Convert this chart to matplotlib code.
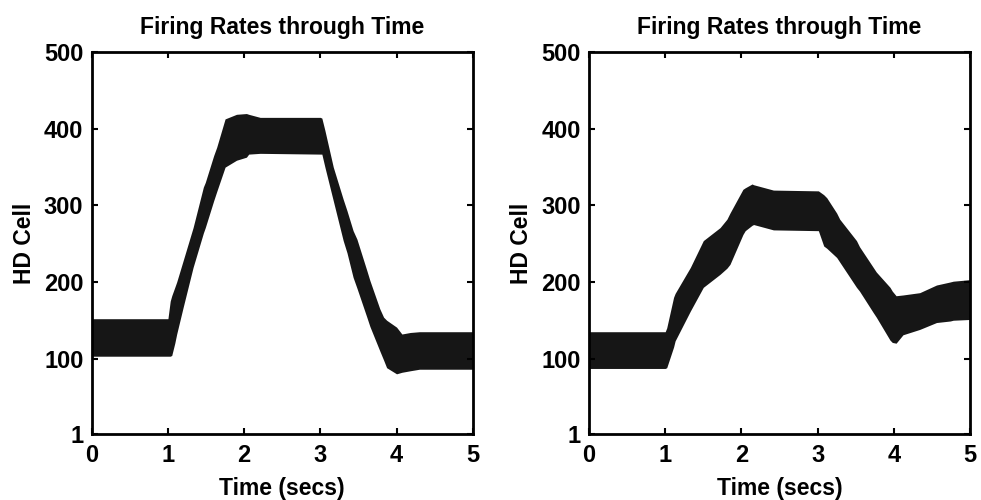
import matplotlib.pyplot as plt

# settings
plt.rcParams.update({'font.family': ['Liberation Sans', 'DejaVu Sans'],
                     'font.weight': 'bold', 'font.size': 17})
band_color = '#161616'

# left panel: upper / lower edge of the firing-rate band
left_t = [0, 1.0, 1.03, 1.05, 1.09, 1.115, 1.2, 1.33, 1.465, 1.49, 1.6, 1.64, 1.75, 1.9, 2.03, 2.06, 2.21,
          3.0, 3.02, 3.06, 3.17, 3.3, 3.35, 3.43, 3.48, 3.61, 3.65, 3.78, 3.83, 3.87, 4.0, 4.07, 4.18, 4.3, 5]
left_hi = [152, 152, 175, 182, 193, 200, 228, 271, 324, 330, 365, 376, 413, 419, 420, 419, 415,
           415, 414, 398, 350, 308, 293, 267, 256, 215, 202, 165, 154, 150, 141, 132, 134, 135, 135]
left_lo = [103, 103, 103, 104, 120, 132, 167, 219, 264, 271, 306, 318, 350, 359, 363, 367, 368,
           367, 367, 350, 306, 254, 238, 206, 192, 154, 142, 110, 98, 88, 80, 82, 84, 86, 86]

# right panel
right_t = [0, 1.0, 1.02, 1.11, 1.13, 1.33, 1.5, 1.72, 1.81, 1.85, 2.02, 2.05, 2.14, 2.16, 2.42, 3.01, 3.08,
           3.12, 3.25, 3.29, 3.51, 3.55, 3.73, 3.77, 3.95, 3.98, 4.03, 4.12, 4.34, 4.56, 4.74, 4.78, 5]
right_hi = [135, 135, 140, 180, 185, 219, 254, 271, 282, 290, 321, 323, 328, 327, 320, 319, 314,
            310, 290, 282, 254, 246, 219, 213, 193, 188, 182, 183, 186, 196, 200, 201, 203]
right_lo = [87, 87, 88, 115, 123, 162, 193, 210, 218, 223, 262, 267, 274, 275, 268, 267, 247,
            244, 232, 226, 193, 188, 160, 154, 124, 121, 120, 131, 138, 147, 149, 150, 151]

x_ticks = [0, 1, 2, 3, 4, 5]
y_ticks = [1, 100, 200, 300, 400, 500]

fig = plt.figure(figsize=(9.81, 5), dpi=100)
ax_left = fig.add_axes([0.0935, 0.1314, 0.3884, 0.764])
ax_right = fig.add_axes([0.6004, 0.1314, 0.3884, 0.764])

for ax, t, hi, lo in [(ax_left, left_t, left_hi, left_lo),
                      (ax_right, right_t, right_hi, right_lo)]:
    ax.fill_between(t, lo, hi, color=band_color, linewidth=0)
    ax.set_xlim(0, 5)
    ax.set_ylim(1, 500)
    ax.set_xticks(x_ticks)
    ax.set_yticks(y_ticks)
    ax.tick_params(direction='in', top=True, right=True, length=4, width=1.5)
    ax.tick_params(axis='x', pad=7)
    ax.tick_params(axis='y', pad=6)
    for s in ax.spines.values():
        s.set_linewidth(2)
    ax.set_title('Firing Rates through Time', fontsize=16.5, fontweight='bold', pad=13)
    ax.set_xlabel('Time (secs)', fontsize=16.5, fontweight='bold', labelpad=7)
    ax.set_ylabel('HD Cell', fontsize=16.5, fontweight='bold', labelpad=6)

fig.savefig('out.png', dpi=100)
